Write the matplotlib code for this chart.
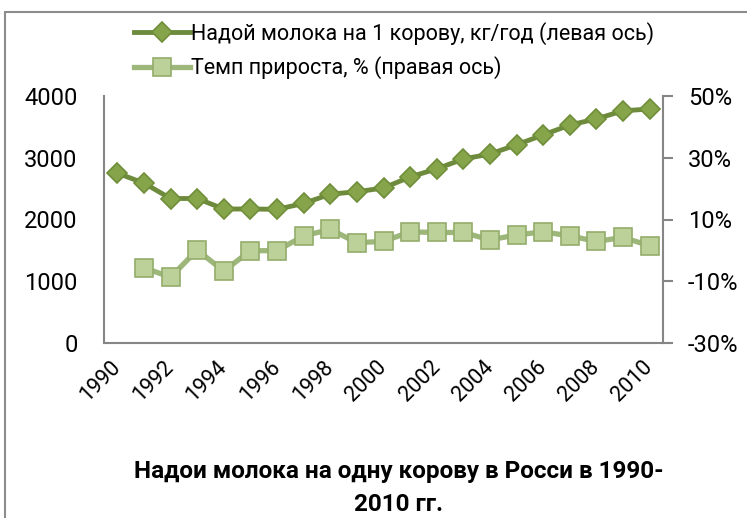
import matplotlib
matplotlib.use("Agg")
import matplotlib.pyplot as plt
import numpy as np
from matplotlib.patches import Rectangle
from matplotlib.ticker import FuncFormatter

plt.rcParams['font.family'] = ['Roboto', 'DejaVu Sans']

# data
years = list(range(1990, 2011))
milk_yield = [2750, 2590, 2340, 2340, 2170, 2170, 2165, 2260, 2410, 2450, 2510,
              2690, 2820, 2980, 3060, 3210, 3370, 3530, 3630, 3760, 3790]
growth_pct = [np.nan, -5.6, -8.7, 0.1, -6.7, -0.1, -0.1, 4.7, 6.8, 2.5, 2.9,
              6.0, 5.8, 5.8, 3.4, 5.0, 6.0, 4.7, 2.9, 4.2, 1.5]
left_ticks = [0, 1000, 2000, 3000, 4000]
right_ticks = [-30, -10, 10, 30, 50]
year_labels = [str(y) for y in years[::2]]

label_yield = 'Надой молока на 1 корову, кг/год (левая ось)'
label_growth = 'Темп прироста, % (правая ось)'
title = 'Надои молока на одну корову в Росси в 1990-\n2010 гг.'

axis_gray = '#868686'

fig = plt.figure(figsize=(7.47, 5.18), dpi=100)
ax = fig.add_axes([104 / 747, 1 - 343 / 518, 559 / 747, 247 / 518])
ax2 = ax.twinx()

x = np.arange(len(years))
l1, = ax.plot(x, milk_yield, color='#6E8B3D', lw=3.5, marker='D', ms=10,
              markerfacecolor='#86A44A', markeredgecolor='#6F8E39', mew=1.2,
              label=label_yield, zorder=3)
l2, = ax2.plot(x, growth_pct, color='#9DB77A', lw=3.8, marker='s', ms=13.5,
               markerfacecolor='#BCD19A', markeredgecolor='#94AD6B', mew=1.2,
               label=label_growth, zorder=3)

ax.set_xlim(-0.5, len(years) - 0.5)
ax.set_ylim(0, 4000)
ax2.set_ylim(-30, 50)
ax.set_yticks(left_ticks)
ax2.set_yticks(right_ticks)
ax2.yaxis.set_major_formatter(FuncFormatter(lambda v, p: f'{int(v)}%'))
ax.set_xticks(x[::2])
ax.set_xticklabels(year_labels, rotation=45, ha='right', va='center',
                   rotation_mode='anchor')

for a in (ax, ax2):
    a.spines['top'].set_visible(False)
    for s in a.spines.values():
        s.set_color(axis_gray)
        s.set_linewidth(1.5)
ax.spines['right'].set_visible(False)
ax2.spines['left'].set_visible(False)
ax2.spines['bottom'].set_visible(False)

ax.tick_params(axis='y', length=0, pad=19, labelsize=17)
ax.tick_params(axis='x', length=0, pad=15, labelsize=15.5)
ax2.tick_params(axis='y', length=7, width=1.5, color=axis_gray, pad=11,
                labelsize=17)

fig.legend(handles=[l1, l2], loc='upper left', bbox_to_anchor=(125 / 747, 1 - 13 / 518),
           frameon=False, fontsize=15.5, handlelength=2.6, handletextpad=0.05,
           labelspacing=0.55, borderaxespad=0)

fig.text(399 / 747, 1 - 488 / 518, title, ha='center', va='center',
         fontsize=17.5, fontweight='bold', linespacing=1.55)

fig.patches.append(Rectangle((5 / 747, -0.1), 1.2, 1.1 - 12 / 518,
                             transform=fig.transFigure, fill=False,
                             edgecolor='#8C8C8C', lw=1.5))

fig.savefig('out.png', dpi=100)
